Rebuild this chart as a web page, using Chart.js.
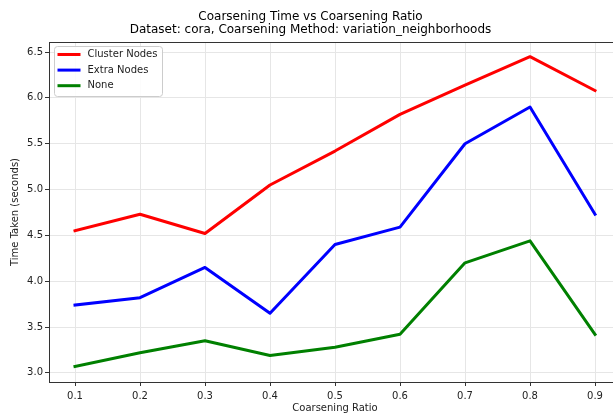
<!DOCTYPE html>
<html>
<head>
<meta charset="utf-8">
<script src="https://cdn.jsdelivr.net/npm/chart.js@4/dist/chart.umd.min.js"></script>
<style>
  html, body { margin: 0; padding: 0; background: #fff; overflow: hidden; }
  canvas { display: block; }
</style>
</head>
<body>
<canvas id="time-chart" width="640" height="413"></canvas>
<script>
const timeChart = document.getElementById('time-chart');

// DATA

const ratios = [0.1, 0.2, 0.3, 0.4, 0.5, 0.6, 0.7, 0.8, 0.9];
const clusterNodes = [4.55, 4.73, 4.52, 5.05, 5.42, 5.82, 6.14, 6.45, 6.08];
const extraNodes = [3.74, 3.82, 4.15, 3.65, 4.40, 4.59, 5.50, 5.90, 4.73];
const noneNodes = [3.07, 3.22, 3.35, 3.19, 3.28, 3.42, 4.20, 4.44, 3.42];
const xTicks = [0.1, 0.2, 0.3, 0.4, 0.5, 0.6, 0.7, 0.8, 0.9];
const yTicks = [3.0, 3.5, 4.0, 4.5, 5.0, 5.5, 6.0, 6.5];

const font = 'DejaVu Sans';
const gridColor = '#e6e6e6';
const axisColor = '#333333';

const toPoints = (values) => ratios.map((r, i) => ({ x: r, y: values[i] }));

// Frame around the plot area (top and right spines)

const frame = {
  id: 'frame',
  afterDatasetsDraw(chart) {
    const { ctx, chartArea } = chart;
    ctx.save();
    ctx.strokeStyle = axisColor;
    ctx.lineWidth = 1;
    ctx.strokeRect(chartArea.left + 0.5, chartArea.top + 0.5,
      chartArea.right - chartArea.left, chartArea.bottom - chartArea.top);
    ctx.restore();
  },
};

// Legend drawn inside the plot, upper left

const innerLegend = {
  id: 'innerLegend',
  afterDraw(chart) {
    const { ctx, chartArea } = chart;
    const x = chartArea.left + 5.5;
    const y = chartArea.top + 4.5;
    const w = 108;
    const h = 50;
    ctx.save();
    ctx.beginPath();
    ctx.roundRect(x, y, w, h, 3);
    ctx.fillStyle = 'rgba(255,255,255,0.85)';
    ctx.fill();
    ctx.strokeStyle = '#cccccc';
    ctx.lineWidth = 1;
    ctx.stroke();
    ctx.font = '10px "' + font + '"';
    ctx.textBaseline = 'middle';
    chart.data.datasets.forEach((ds, i) => {
      const rowY = y + 8 + i * 15.6;
      ctx.strokeStyle = ds.borderColor;
      ctx.lineWidth = 3;
      ctx.beginPath();
      ctx.moveTo(x + 3, rowY);
      ctx.lineTo(x + 26, rowY);
      ctx.stroke();
      ctx.fillStyle = '#222';
      ctx.fillText(ds.label, x + 33, rowY);
    });
    ctx.restore();
  },
};

new Chart(timeChart, {
  type: 'line',
  data: {
    datasets: [
      { label: 'Cluster Nodes', data: toPoints(clusterNodes), borderColor: '#ff0000' },
      { label: 'Extra Nodes', data: toPoints(extraNodes), borderColor: '#0000ff' },
      { label: 'None', data: toPoints(noneNodes), borderColor: '#008000' },
    ],
  },
  options: {
    responsive: false,
    animation: false,
    devicePixelRatio: 1,
    layout: { padding: { left: 0, right: 19, top: 0, bottom: 0 } },
    elements: {
      line: {
        borderWidth: 3,
        tension: 0,
        fill: false,
        borderJoinStyle: 'round',
        borderCapStyle: 'square',
      },
      point: { radius: 0 },
    },
    scales: {
      x: {
        type: 'linear',
        min: 0.06,
        max: 0.94,
        afterBuildTicks: (scale) => { scale.ticks = xTicks.map((v) => ({ value: v })); },
        afterFit: (scale) => { scale.height = 31; },
        grid: { color: gridColor, tickColor: axisColor, tickLength: 4 },
        border: { color: axisColor, width: 1 },
        ticks: {
          padding: 4,
          color: '#222',
          font: { family: font, size: 10 },
          maxRotation: 0,
          callback: (v) => v.toFixed(1),
        },
        title: {
          display: true,
          text: 'Coarsening Ratio',
          color: '#222',
          font: { family: font, size: 10 },
          padding: { top: 0, bottom: -1 },
        },
      },
      y: {
        min: 2.9,
        max: 6.61,
        afterBuildTicks: (scale) => { scale.ticks = yTicks.map((v) => ({ value: v })); },
        afterFit: (scale) => { scale.width = 49; },
        grid: { color: gridColor, tickColor: axisColor, tickLength: 4 },
        border: { color: axisColor, width: 1 },
        ticks: {
          padding: 2,
          color: '#222',
          font: { family: font, size: 10 },
          callback: (v) => v.toFixed(1),
        },
        title: {
          display: true,
          text: 'Time Taken (seconds)',
          color: '#222',
          font: { family: font, size: 10 },
          padding: { top: 9, bottom: 0 },
        },
      },
    },
    plugins: {
      legend: { display: false },
      tooltip: { enabled: false },
      title: {
        display: true,
        text: [
          'Coarsening Time vs Coarsening Ratio',
          'Dataset: cora, Coarsening Method: variation_neighborhoods',
        ],
        color: '#000',
        font: { family: font, size: 12, weight: 'normal', lineHeight: 1.1 },
        padding: { top: 10, bottom: 5.6 },
      },
    },
  },
  plugins: [frame, innerLegend],
});
</script>
</body>
</html>
